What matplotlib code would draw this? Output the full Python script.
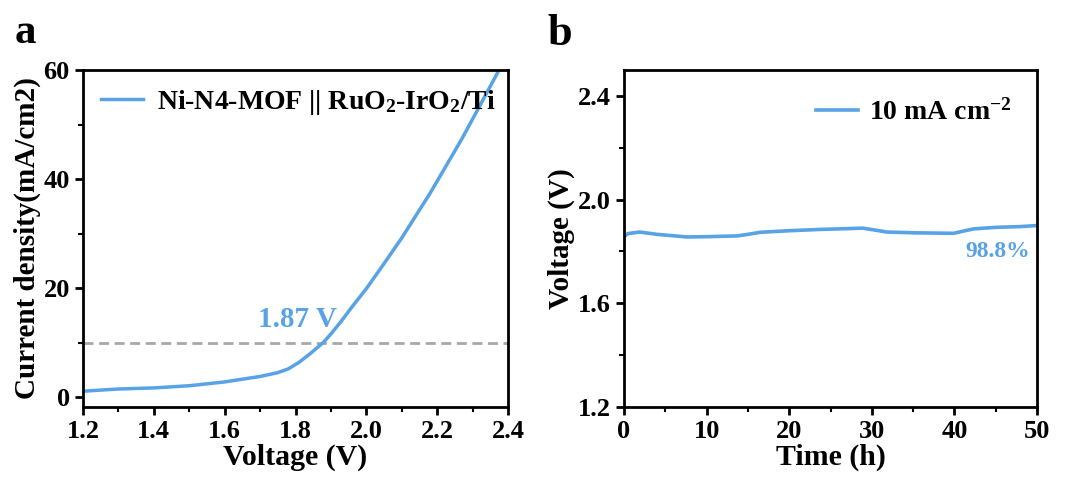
import matplotlib
matplotlib.use('Agg')
import matplotlib.pyplot as plt
from matplotlib.ticker import MultipleLocator

# ---- data ----
lsv_voltage = [1.20, 1.30, 1.40, 1.50, 1.60, 1.70, 1.75, 1.78, 1.81, 1.84, 1.878,
               1.90, 1.93, 1.96, 2.00, 2.05, 2.10, 2.18, 2.27, 2.32, 2.373]
lsv_current = [1.1, 1.5, 1.7, 2.1, 2.8, 3.8, 4.5, 5.2, 6.4, 7.9, 10.0,
               11.6, 14.0, 16.6, 19.9, 24.5, 29.2, 37.4, 47.4, 53.4, 59.8]
onset_v = 1.87
ref_current = 10

stab_time = [0, 0.5, 1.9, 4, 7.6, 10, 13.7, 15, 16.5, 20, 23.7, 27, 28.9,
             30.5, 31.8, 35, 39.9, 41, 42.3, 45, 48, 50]
stab_volt = [1.858, 1.869, 1.875, 1.866, 1.856, 1.857, 1.860, 1.866, 1.874,
             1.880, 1.885, 1.888, 1.890, 1.882, 1.875, 1.872, 1.870, 1.878,
             1.887, 1.893, 1.896, 1.900]
retention = '98.8%'

blue = '#58a2e6'

plt.rcParams['font.family'] = 'Liberation Serif'
plt.rcParams['font.weight'] = 'bold'
plt.rcParams['mathtext.fontset'] = 'custom'
plt.rcParams['mathtext.rm'] = 'Liberation Serif:bold'
plt.rcParams['mathtext.bf'] = 'Liberation Serif:bold'
plt.rcParams['mathtext.default'] = 'bf'

fig = plt.figure(figsize=(10.69, 4.84), dpi=100)
ax1 = fig.add_axes([83 / 1069, 1 - 407 / 484, 425 / 1069, 337 / 484])
ax2 = fig.add_axes([624 / 1069, 1 - 407 / 484, 413 / 1069, 337 / 484])


def style(ax):
    for s in ax.spines.values():
        s.set_linewidth(2)
    ax.tick_params(which='major', direction='out', length=6, width=2, labelsize=19)
    ax.tick_params(which='minor', direction='out', length=3.5, width=1.5)
    for lab in ax.get_xticklabels() + ax.get_yticklabels():
        lab.set_fontweight('bold')


# ---- panel a ----
ax1.axhline(ref_current, color='#a8a8a8', linestyle=(0, (3.6, 2.0)), linewidth=2)
ax1.plot(lsv_voltage, lsv_current, color=blue, linewidth=2.5,
         label='Ni-N4-MOF || RuO$_2$-IrO$_2$/Ti')
ax1.text(1.805, 14.2, f'{onset_v} V', color=blue, fontsize=21, fontweight='bold',
         ha='center', va='center')
ax1.set_xlim(1.2, 2.4)
ax1.set_ylim(-1.8, 60)
ax1.set_xticks([1.2, 1.4, 1.6, 1.8, 2.0, 2.2, 2.4])
ax1.set_xticklabels(['1.2', '1.4', '1.6', '1.8', '2.0', '2.2', '2.4'])
ax1.xaxis.set_minor_locator(MultipleLocator(0.1))
ax1.yaxis.set_major_locator(MultipleLocator(20))
ax1.yaxis.set_minor_locator(MultipleLocator(10))
ax1.set_xlabel('Voltage (V)', fontsize=21.5, fontweight='bold', labelpad=0)
ax1.set_ylabel('Current density(mA/cm2)', fontsize=21, fontweight='bold', labelpad=2)
style(ax1)
ax1.legend(loc='upper left', frameon=False, fontsize=20, handlelength=1.5,
           handletextpad=0.5, borderaxespad=0.25, bbox_to_anchor=(0.0, 1.0))
fig.text(15 / 1069, 1 - 43 / 484, 'a', fontsize=31, fontweight='bold')

# ---- panel b ----
ax2.plot(stab_time, stab_volt, color=blue, linewidth=2.6, label='10 mA cm$^{-2}$')
ax2.text(45.2, 1.80, retention, color=blue, fontsize=17, fontweight='bold',
         ha='center', va='center')
ax2.set_xlim(0, 50)
ax2.set_ylim(1.2, 2.5)
ax2.xaxis.set_major_locator(MultipleLocator(10))
ax2.xaxis.set_minor_locator(MultipleLocator(5))
ax2.set_yticks([1.2, 1.6, 2.0, 2.4])
ax2.set_yticklabels(['1.2', '1.6', '2.0', '2.4'])
ax2.yaxis.set_minor_locator(MultipleLocator(0.2))
ax2.set_xlabel('Time (h)', fontsize=21.5, fontweight='bold', labelpad=0)
ax2.set_ylabel('Voltage (V)', fontsize=21, fontweight='bold', labelpad=2)
style(ax2)
ax2.legend(loc='upper right', frameon=False, fontsize=20, handlelength=1.5,
           handletextpad=0.4, borderaxespad=0.3, bbox_to_anchor=(0.985, 0.97))
fig.text(547 / 1069, 1 - 45 / 484, 'b', fontsize=32, fontweight='bold')

fig.savefig('out.png', dpi=100, facecolor='white')
